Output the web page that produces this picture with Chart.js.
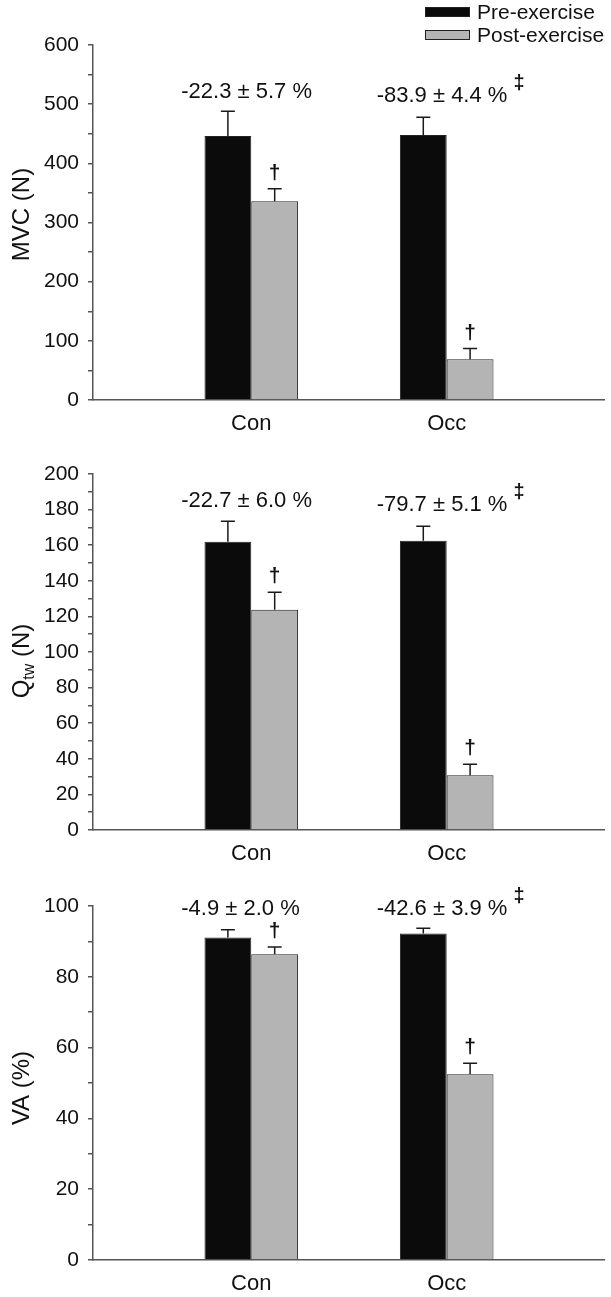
<!DOCTYPE html>
<html>
<head>
<meta charset="utf-8">
<script src="https://cdn.jsdelivr.net/npm/chart.js@4.4.1/dist/chart.umd.min.js"></script>
<style>
  html, body { margin: 0; padding: 0; background: #fff; }
  #wrap { position: relative; width: 611px; height: 1297px; }
  .panel { position: absolute; left: 0; width: 611px; }
</style>
</head>
<body>
<div id="wrap">
  <div class="panel" style="top:0;height:430px"><canvas id="mvcChart"></canvas></div>
  <div class="panel" style="top:430px;height:430px"><canvas id="qtwChart"></canvas></div>
  <div class="panel" style="top:860px;height:437px"><canvas id="vaChart"></canvas></div>
</div>
<script>
const groups = ["Con", "Occ"];
const seriesNames = ["Pre-exercise", "Post-exercise"];

// MVC (N)
const mvcPre = [446, 448];
const mvcPreErr = [42, 30];
const mvcPost = [336, 69];
const mvcPostErr = [21, 18];
const mvcChange = ["-22.3 ± 5.7 %", "-83.9 ± 4.4 %"];

// Qtw (N)
const qtwPre = [162, 162.5];
const qtwPreErr = [11.4, 8.1];
const qtwPost = [123.7, 30.7];
const qtwPostErr = [9.9, 6.2];
const qtwChange = ["-22.7 ± 6.0 %", "-79.7 ± 5.1 %"];

// VA (%)
const vaPre = [91.1, 92.2];
const vaPreErr = [2.2, 1.5];
const vaPost = [86.4, 52.5];
const vaPostErr = [2.0, 3.1];
const vaChange = ["-4.9 ± 2.0 %", "-42.6 ± 3.9 %"];

// † on post bar, ‡ next to the % change
const postSig = [true, true];
const changeSig = [false, true];

const FONT = "'Liberation Sans', Arial, Helvetica, sans-serif";
const INK = "#111";
const AXIS = "#555";

// error bars, daggers, % change notes, legend, y title (with subscript)
const marks = {
  id: "marks",
  afterDatasetsDraw(chart, args, opts) {
    const ctx = chart.ctx;
    const ys = chart.scales.y;
    const xs = chart.scales.x;
    ctx.save();
    opts.errors.forEach((errs, di) => {
      const ds = chart.data.datasets[di];
      chart.getDatasetMeta(di).data.forEach((bar, i) => {
        const top = ys.getPixelForValue(ds.data[i].y + errs[i]);
        ctx.strokeStyle = "#1a1a1a";
        ctx.lineWidth = 1.5;
        ctx.beginPath();
        ctx.moveTo(bar.x, bar.y);
        ctx.lineTo(bar.x, top);
        ctx.moveTo(bar.x - 7, top);
        ctx.lineTo(bar.x + 7, top);
        ctx.stroke();
        if (di === 1 && postSig[i]) {
          ctx.fillStyle = INK;
          ctx.font = "bold 21px " + FONT;
          ctx.textAlign = "center";
          ctx.textBaseline = "alphabetic";
          ctx.fillText("†", bar.x, top - 10);
        }
      });
    });

    ctx.fillStyle = INK;
    ctx.textAlign = "left";
    ctx.textBaseline = "alphabetic";
    opts.notes.forEach((txt, i) => {
      ctx.font = "22px " + FONT;
      const x0 = xs.getPixelForValue(i + 1) - 70;
      const yb = ys.getPixelForValue(opts.noteAt[i]);
      ctx.fillText(txt, x0, yb);
      if (changeSig[i]) {
        const w = ctx.measureText(txt).width;
        ctx.font = "bold 20px " + FONT;
        ctx.fillText("‡", x0 + w + 6, yb - 13);
      }
    });

    if (opts.legend) {
      const colors = chart.data.datasets.map(d => d.backgroundColor);
      seriesNames.forEach((name, i) => {
        const y = 7 + i * 23;
        ctx.fillStyle = colors[i];
        ctx.fillRect(425, y, 45, 10);
        ctx.strokeStyle = "#222";
        ctx.lineWidth = 1;
        ctx.strokeRect(425.5, y + 0.5, 44, 9);
        ctx.fillStyle = INK;
        ctx.font = "21px " + FONT;
        ctx.textBaseline = "middle";
        ctx.fillText(name, 477, y + 6);
      });
    }

    // rotated y title; parts = [text, size, baseline shift]
    const parts = opts.title;
    const cy = (ys.top + ys.bottom) / 2 + opts.titleShift;
    ctx.translate(21, cy);
    ctx.rotate(-Math.PI / 2);
    ctx.textAlign = "left";
    ctx.textBaseline = "alphabetic";
    ctx.fillStyle = INK;
    const widths = parts.map(([t, size]) => {
      ctx.font = size + "px " + FONT;
      return ctx.measureText(t).width;
    });
    let x = -widths.reduce((a, b) => a + b, 0) / 2;
    parts.forEach(([t, size, dy], k) => {
      ctx.font = size + "px " + FONT;
      ctx.fillText(t, x, 8 + dy);
      x += widths[k];
    });
    ctx.restore();
  }
};

function makeChart(id, cfg) {
  const datasets = [
    { label: seriesNames[0], data: groups.map((g, i) => ({ x: i + 1, y: cfg.pre[i] })), backgroundColor: "#0b0b0b" },
    { label: seriesNames[1], data: groups.map((g, i) => ({ x: i + 1, y: cfg.post[i] })), backgroundColor: "#b4b4b4" }
  ].map(d => Object.assign(d, {
    borderColor: "#222", borderWidth: 1, categoryPercentage: 0.479, barPercentage: 1
  }));

  new Chart(document.getElementById(id), {
    type: "bar",
    data: { datasets },
    plugins: [marks],
    options: {
      responsive: true,
      maintainAspectRatio: false,
      animation: false,
      layout: { padding: { top: cfg.padTop, right: 7, left: 0, bottom: 0 } },
      plugins: {
        legend: { display: false },
        tooltip: { enabled: false },
        marks: {
          errors: [cfg.preErr, cfg.postErr],
          notes: cfg.notes,
          noteAt: cfg.noteAt,
          legend: cfg.legend,
          title: cfg.title,
          titleShift: cfg.titleShift
        }
      },
      scales: {
        x: {
          type: "linear",
          min: 0.19,
          max: 2.805,
          offset: false,
          afterBuildTicks: s => { s.ticks = groups.map((g, i) => ({ value: i + 1 })); },
          afterFit: s => { s.height = cfg.xHeight; },
          border: { color: AXIS, width: 1.5 },
          grid: { display: false, drawTicks: false },
          ticks: {
            autoSkip: false, maxRotation: 0, padding: 11, color: INK,
            font: { family: FONT, size: 22 },
            callback: v => groups[v - 1]
          }
        },
        y: {
          min: 0,
          max: cfg.max,
          afterFit: s => { s.width = 93; },
          border: { color: AXIS, width: 1.5 },
          grid: { drawOnChartArea: false, drawTicks: true, tickLength: 5, color: AXIS, lineWidth: 1.5 },
          ticks: {
            stepSize: cfg.step, autoSkip: false, padding: 9, color: INK,
            font: { family: FONT, size: 21 },
            callback: v => (v % cfg.labelEvery === 0 ? v : "")
          }
        }
      }
    }
  });
}

makeChart("mvcChart", {
  pre: mvcPre, post: mvcPost, preErr: mvcPreErr, postErr: mvcPostErr,
  notes: mvcChange, noteAt: [510, 504],
  max: 600, step: 50, labelEvery: 100,
  title: [["MVC (N)", 24, 0]], titleShift: -8,
  padTop: 45, xHeight: 30, legend: true
});

makeChart("qtwChart", {
  pre: qtwPre, post: qtwPost, preErr: qtwPreErr, postErr: qtwPostErr,
  notes: qtwChange, noteAt: [181.4, 179.2],
  max: 200, step: 10, labelEvery: 20,
  title: [["Q", 24, 0], ["tw", 16, 5], [" (N)", 24, 0]], titleShift: 9,
  padTop: 44, xHeight: 30
});

makeChart("vaChart", {
  pre: vaPre, post: vaPost, preErr: vaPreErr, postErr: vaPostErr,
  notes: vaChange, noteAt: [97.4, 97.4],
  max: 100, step: 10, labelEvery: 20,
  title: [["VA (%)", 24, 0]], titleShift: 5,
  padTop: 46, xHeight: 37
});
</script>
</body>
</html>
